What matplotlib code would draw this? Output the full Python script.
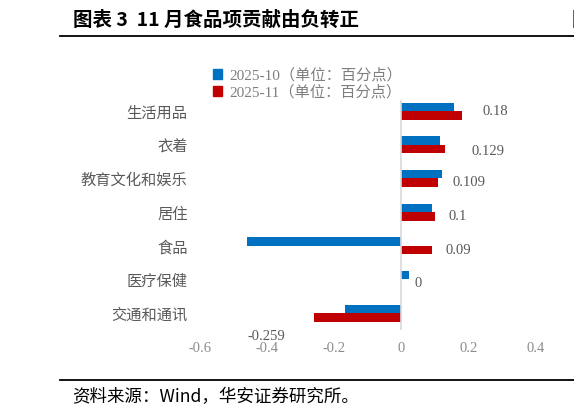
import matplotlib
matplotlib.use("Agg")
import matplotlib.pyplot as plt
from matplotlib.lines import Line2D
from matplotlib.patches import Patch

plt.rcParams['font.family'] = ['Noto Sans CJK SC', 'DejaVu Sans']

categories = ["生活用品", "衣着", "教育文化和娱乐", "居住", "食品", "医疗保健", "交通和通讯"]
oct_values = [0.157, 0.116, 0.121, 0.09, -0.461, 0.023, -0.169]
nov_values = [0.18, 0.129, 0.109, 0.1, 0.09, 0, -0.259]
series_names = ["2025-10（单位：百分点）", "2025-11（单位：百分点）"]
x_ticks = [-0.6, -0.4, -0.2, 0, 0.2, 0.4]

blue = "#0070C0"
red = "#C00000"

# label offsets in pixels (the labels in the original were nudged by hand)
label_offsets = [(21, 3.5), (27, -2.7), (14, 0), (13.5, 0), (14, -0.7), (13.3, 0), (-48, -19.3)]

W, H = 574, 417
fig = plt.figure(figsize=(W / 100, H / 100), dpi=100)
ax = fig.add_axes([200 / W, 1 - 330 / H, 335.7 / W, 230 / H])

pos = list(range(len(categories)))
bh = 0.25
ax.barh([p - bh / 2 for p in pos], oct_values, height=bh, color=blue, label=series_names[0])
ax.barh([p + bh / 2 for p in pos], nov_values, height=bh, color=red, label=series_names[1])

for p, v, (dx, dy) in zip(pos, nov_values, label_offsets):
    ha = "center" if v < -0.2 else "left"
    ax.annotate(f"{v:g}", (v, p + bh / 2), xytext=(dx, dy), textcoords="offset pixels",
                ha=ha, va="center", fontsize=10.5, color="#595959", family="Liberation Serif")

ax.axvline(0, color="#d9d9d9", lw=1.2)
ax.set_xlim(-0.6, 0.4)
ax.set_ylim(6.5, -0.33)
ax.set_yticks(pos)
ax.set_yticklabels(categories, fontsize=11, color="#595959")
ax.set_xticks(x_ticks)
ax.set_xticklabels([f"{t:g}" for t in x_ticks], family="Liberation Serif", fontsize=10.5, color="#8c8c8c")
ax.tick_params(axis="y", length=0, pad=9)
ax.tick_params(axis="x", length=0, pad=9)
for s in ax.spines.values():
    s.set_visible(False)

handles = [Patch(color=blue), Patch(color=red)]
fig.legend(handles, series_names, loc="upper left", bbox_to_anchor=(205 / W, 1 - 60 / H),
           frameon=False, handlelength=0.6, handleheight=0.6,
           handletextpad=0.5, labelspacing=0.15, borderpad=0, labelcolor="#7f7f7f",
           prop={"family": ["Liberation Serif", "Noto Sans CJK SC"], "size": 11})

fig.text(73 / W, 1 - 20 / H, "图表 3  11 月食品项贡献由负转正", fontsize=14, fontweight="bold",
         va="center", ha="left")
fig.text(572 / W, 1 - 20 / H, "图", fontsize=14, fontweight="bold", va="center", ha="left")
fig.add_artist(Line2D([60 / W, 1], [1 - 35.7 / H] * 2, color="black", lw=1.3))
fig.add_artist(Line2D([60 / W, 1], [1 - 380 / H] * 2, color="black", lw=1.3))
fig.text(72 / W, 1 - 396.7 / H, "资料来源：Wind，华安证券研究所。", fontsize=12.6, va="center", ha="left")

fig.savefig("out.png", dpi=100)
